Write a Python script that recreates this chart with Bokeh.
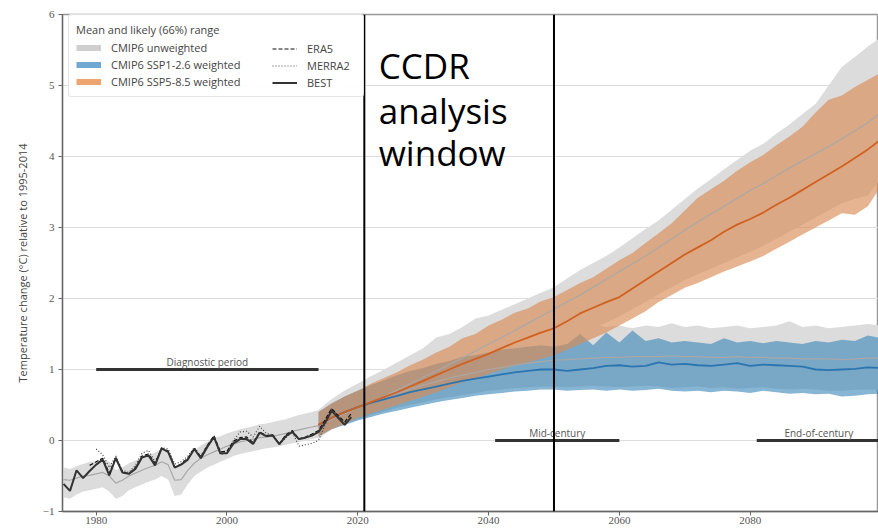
from bokeh.plotting import figure
from bokeh.models import Legend, LegendItem, Span, Label, FixedTicker, Range1d
from bokeh.core.properties import value
from bokeh.embed import file_html
from bokeh.resources import INLINE

# ---------------- data ----------------
x_ticks = [1980, 2000, 2020, 2040, 2060, 2080, 2100]
y_ticks = [-1, 0, 1, 2, 3, 4, 5, 6]
y_tick_labels = ["\u22121", "0", "1", "2", "3", "4", "5", "6"]

# observations
best_years = list(range(1975, 2020))
best = [-0.61, -0.71, -0.42, -0.53, -0.43, -0.34, -0.27, -0.49, -0.25, -0.45,
        -0.47, -0.40, -0.24, -0.21, -0.35, -0.11, -0.16, -0.38, -0.34, -0.27,
        -0.12, -0.25, -0.09, 0.05, -0.18, -0.18, -0.04, 0.02, 0.02, -0.05,
        0.11, 0.06, 0.07, -0.05, 0.06, 0.12, 0.02, 0.04, 0.07, 0.12,
        0.25, 0.42, 0.32, 0.22, 0.33]
era5_years = list(range(1979, 2020))
era5 = [-0.35, -0.30, -0.25, -0.46, -0.24, -0.44, -0.47, -0.38, -0.22, -0.19,
        -0.32, -0.11, -0.15, -0.38, -0.33, -0.25, -0.11, -0.23, -0.07, 0.07,
        -0.16, -0.15, -0.01, 0.04, 0.05, -0.03, 0.12, 0.07, 0.08, -0.05,
        0.08, 0.14, 0.02, 0.05, 0.09, 0.14, 0.29, 0.45, 0.35, 0.26, 0.38]
merra2_years = list(range(1980, 2020))
merra2 = [-0.12, -0.20, -0.38, -0.22, -0.42, -0.45, -0.35, -0.18, -0.14, -0.30,
          -0.10, -0.12, -0.33, -0.30, -0.22, -0.10, -0.22, -0.06, 0.03, -0.20,
          -0.17, 0.00, 0.12, 0.13, 0.05, 0.20, 0.10, 0.08, -0.06, 0.04,
          0.12, -0.08, -0.06, -0.04, 0.00, 0.22, 0.45, 0.34, 0.22, 0.33]

# CMIP6 unweighted, historical
hist_years = list(range(1975, 2015))
hist_mean = [-0.55, -0.56, -0.53, -0.50, -0.49, -0.47, -0.45, -0.50, -0.60, -0.56,
             -0.50, -0.46, -0.42, -0.38, -0.35, -0.30, -0.34, -0.56, -0.55, -0.42,
             -0.32, -0.25, -0.20, -0.16, -0.12, -0.08, -0.05, -0.02, 0.00, 0.02,
             0.04, 0.05, 0.06, 0.08, 0.10, 0.13, 0.15, 0.17, 0.19, 0.21]
hist_hi = [-0.38, -0.40, -0.36, -0.33, -0.30, -0.30, -0.27, -0.30, -0.42, -0.38,
           -0.32, -0.28, -0.24, -0.20, -0.17, -0.12, -0.14, -0.36, -0.36, -0.24,
           -0.14, -0.07, -0.02, 0.03, 0.06, 0.10, 0.13, 0.16, 0.18, 0.20,
           0.23, 0.24, 0.26, 0.28, 0.30, 0.33, 0.36, 0.38, 0.40, 0.43]
hist_lo = [-0.80, -0.82, -0.76, -0.72, -0.70, -0.68, -0.66, -0.72, -0.82, -0.78,
           -0.70, -0.66, -0.62, -0.58, -0.55, -0.50, -0.55, -0.78, -0.76, -0.62,
           -0.50, -0.44, -0.38, -0.34, -0.30, -0.26, -0.22, -0.19, -0.17, -0.15,
           -0.13, -0.11, -0.10, -0.08, -0.06, -0.04, -0.02, 0.00, 0.02, 0.04]

# projections (every second year)
fut_years = list(range(2014, 2101, 2))
ssp585_w_mean = [0.22, 0.32, 0.40, 0.47, 0.54, 0.61, 0.68, 0.76, 0.84, 0.92,
                 1.00, 1.08, 1.15, 1.22, 1.30, 1.38, 1.45, 1.52, 1.58, 1.68,
                 1.79, 1.87, 1.95, 2.02, 2.14, 2.26, 2.38, 2.50, 2.62, 2.72,
                 2.82, 2.94, 3.04, 3.12, 3.21, 3.32, 3.42, 3.53, 3.64, 3.75,
                 3.86, 3.98, 4.10, 4.24]
ssp585_w_hi = [0.40, 0.52, 0.62, 0.70, 0.80, 0.88, 0.96, 1.06, 1.14, 1.24,
               1.32, 1.44, 1.50, 1.62, 1.70, 1.80, 1.86, 1.96, 2.02, 2.12,
               2.22, 2.30, 2.42, 2.54, 2.64, 2.78, 2.92, 3.06, 3.24, 3.42,
               3.54, 3.66, 3.80, 3.92, 4.02, 4.16, 4.28, 4.42, 4.62, 4.80,
               4.86, 4.98, 5.08, 5.18]
ssp585_w_lo = [0.06, 0.16, 0.24, 0.32, 0.38, 0.44, 0.50, 0.56, 0.62, 0.68,
               0.75, 0.82, 0.88, 0.94, 1.00, 1.06, 1.10, 1.15, 1.20, 1.28,
               1.36, 1.44, 1.52, 1.62, 1.72, 1.82, 1.95, 2.05, 2.15, 2.22,
               2.30, 2.38, 2.45, 2.52, 2.60, 2.70, 2.80, 2.90, 3.00, 3.10,
               3.20, 3.18, 3.30, 3.58]
ssp585_u_mean = [0.21, 0.30, 0.38, 0.46, 0.54, 0.62, 0.71, 0.80, 0.89, 0.98,
                 1.07, 1.16, 1.26, 1.36, 1.45, 1.55, 1.65, 1.75, 1.85, 1.95,
                 2.05, 2.16, 2.27, 2.38, 2.49, 2.60, 2.72, 2.84, 2.96, 3.08,
                 3.19, 3.30, 3.41, 3.52, 3.62, 3.73, 3.84, 3.94, 4.04, 4.14,
                 4.25, 4.36, 4.48, 4.62]
ssp585_u_hi = [0.43, 0.58, 0.70, 0.80, 0.90, 1.00, 1.10, 1.20, 1.30, 1.45,
               1.50, 1.60, 1.72, 1.76, 1.84, 1.92, 2.00, 2.08, 2.16, 2.28,
               2.40, 2.50, 2.60, 2.72, 2.85, 2.98, 3.10, 3.25, 3.40, 3.55,
               3.68, 3.82, 3.95, 4.08, 4.18, 4.32, 4.45, 4.60, 4.74, 5.00,
               5.26, 5.40, 5.55, 5.68]
ssp585_u_lo = [0.02, 0.18, 0.28, 0.35, 0.42, 0.48, 0.55, 0.62, 0.68, 0.75,
               0.82, 0.90, 0.96, 1.03, 1.10, 1.16, 1.22, 1.28, 1.34, 1.42,
               1.50, 1.58, 1.66, 1.75, 1.85, 1.95, 2.06, 2.16, 2.26, 2.34,
               2.42, 2.50, 2.58, 2.66, 2.74, 2.84, 2.94, 3.04, 3.14, 3.24,
               3.34, 3.40, 3.45, 3.70]
ssp126_w_mean = [0.22, 0.32, 0.40, 0.47, 0.53, 0.58, 0.63, 0.68, 0.72, 0.76,
                 0.80, 0.84, 0.87, 0.90, 0.93, 0.96, 0.98, 1.00, 1.00, 0.98,
                 1.00, 1.02, 1.05, 1.06, 1.04, 1.05, 1.10, 1.07, 1.08, 1.06,
                 1.05, 1.07, 1.09, 1.05, 1.07, 1.06, 1.05, 1.04, 1.00, 0.99,
                 1.00, 1.01, 1.03, 1.02]
ssp126_w_hi = [0.40, 0.52, 0.62, 0.70, 0.78, 0.85, 0.92, 0.98, 1.02, 1.08,
               1.12, 1.18, 1.20, 1.24, 1.28, 1.30, 1.32, 1.34, 1.32, 1.36,
               1.50, 1.34, 1.52, 1.38, 1.55, 1.40, 1.44, 1.38, 1.40, 1.38,
               1.36, 1.44, 1.38, 1.40, 1.37, 1.40, 1.38, 1.36, 1.40, 1.38,
               1.42, 1.40, 1.48, 1.44]
ssp126_w_lo = [0.06, 0.16, 0.22, 0.28, 0.33, 0.38, 0.42, 0.46, 0.50, 0.54,
               0.57, 0.60, 0.63, 0.65, 0.67, 0.69, 0.70, 0.72, 0.72, 0.70,
               0.71, 0.72, 0.70, 0.72, 0.70, 0.71, 0.73, 0.70, 0.69, 0.70,
               0.68, 0.70, 0.69, 0.67, 0.70, 0.68, 0.66, 0.67, 0.65, 0.66,
               0.62, 0.63, 0.65, 0.66]
ssp126_u_mean = [0.21, 0.30, 0.38, 0.46, 0.53, 0.60, 0.66, 0.72, 0.78, 0.83,
                 0.88, 0.92, 0.96, 1.00, 1.03, 1.06, 1.09, 1.11, 1.13, 1.14,
                 1.15, 1.16, 1.17, 1.17, 1.18, 1.18, 1.18, 1.19, 1.18, 1.18,
                 1.17, 1.17, 1.18, 1.17, 1.17, 1.16, 1.16, 1.15, 1.15, 1.15,
                 1.14, 1.15, 1.16, 1.16]
ssp126_u_hi = [0.43, 0.58, 0.70, 0.80, 0.90, 0.98, 1.06, 1.14, 1.20, 1.28,
               1.34, 1.40, 1.44, 1.48, 1.52, 1.55, 1.58, 1.60, 1.58, 1.62,
               1.60, 1.64, 1.60, 1.62, 1.58, 1.62, 1.60, 1.65, 1.60, 1.62,
               1.58, 1.60, 1.62, 1.58, 1.60, 1.62, 1.68, 1.60, 1.62, 1.58,
               1.60, 1.62, 1.64, 1.62]
ssp126_u_lo = [0.02, 0.16, 0.24, 0.30, 0.36, 0.41, 0.46, 0.50, 0.54, 0.58,
               0.61, 0.64, 0.67, 0.70, 0.72, 0.74, 0.75, 0.76, 0.76, 0.75,
               0.76, 0.77, 0.76, 0.75, 0.76, 0.77, 0.76, 0.74, 0.75, 0.76,
               0.74, 0.75, 0.73, 0.74, 0.75, 0.73, 0.72, 0.73, 0.72, 0.70,
               0.70, 0.71, 0.72, 0.72]

# periods
period_labels = ["Diagnostic period", "Mid-century", "End-of-century"]
period_start = [1980, 2041, 2081]
period_end = [2014, 2060, 2100]
period_level = [1.0, 0.0, 0.0]

# CCDR analysis window
window_years = [2021, 2050]
window_text = ["CCDR", "analysis", "window"]

# ---------------- figure ----------------
SANS = "Open Sans"
NAN = float("nan")
p = figure(width=878, height=530, x_range=Range1d(1974.85, 2099.62), y_range=Range1d(-1, 6),
           output_backend="svg", toolbar_location=None,
           min_border_left=62, min_border_right=0, min_border_top=14, min_border_bottom=19)
p.background_fill_color = "white"
p.border_fill_color = "white"
p.outline_line_color = "#999999"
p.outline_line_width = 1.5

GRAY_BAND = "#dcdcdc"
BLUE_BAND = "#3783b8"
ORANGE_BAND = "#d98c55"

p.varea(x=hist_years, y1=hist_lo, y2=hist_hi, fill_color=GRAY_BAND)
p.varea(x=fut_years, y1=ssp585_u_lo, y2=ssp585_u_hi, fill_color=GRAY_BAND)
p.varea(x=fut_years, y1=ssp126_u_lo, y2=ssp126_u_hi, fill_color=GRAY_BAND)
p.varea(x=fut_years, y1=ssp126_w_lo, y2=ssp126_w_hi, fill_color=BLUE_BAND, fill_alpha=0.6)
p.varea(x=fut_years, y1=ssp585_w_lo, y2=ssp585_w_hi, fill_color=ORANGE_BAND, fill_alpha=0.65)

p.line(hist_years, hist_mean, line_color="#a8a8a8", line_width=1.2)
p.line(fut_years, ssp585_u_mean, line_color="#a8a8a8", line_width=1.2)
p.line(fut_years, ssp126_u_mean, line_color="#a8a8a8", line_width=1.2)
p.line(fut_years, ssp126_w_mean, line_color="#2b75b0", line_width=1.8)
p.line(fut_years, ssp585_w_mean, line_color="#d2601f", line_width=1.8)

r_merra = p.line(merra2_years, merra2, line_color="#444444", line_width=1.2, line_dash="1 2")
r_era5 = p.line(era5_years, era5, line_color="#111111", line_width=1.2, line_dash="4 2")
r_best = p.line(best_years, best, line_color="#333333", line_width=2)

# periods
p.segment(x0=period_start, y0=period_level, x1=period_end, y1=period_level,
          line_color="#333333", line_width=3)
p.text(x=[(s + e) / 2 for s, e in zip(period_start, period_end)],
       y=[lv + 0.11 for lv in period_level], text=period_labels,
       text_align="center", text_baseline="alphabetic",
       text_font=value(SANS), text_font_size="10px", text_color="#555555")

for yr in window_years:
    p.add_layout(Span(location=yr, dimension="height", line_color="black", line_width=2))

for txt, yv in zip(window_text, [5.28, 4.65, 4.06]):
    p.add_layout(Label(x=2023.2, y=yv, text=txt, text_font=SANS, text_font_size="35px",
                       text_color="black", text_baseline="alphabetic", text_align="left"))

# legend swatches (draw nothing in the plot)
sw_gray = p.line(x=[NAN], y=[NAN], line_color="#cfcfcf", line_width=6)
sw_blue = p.line(x=[NAN], y=[NAN], line_color="#6fa8d0", line_width=6)
sw_orange = p.line(x=[NAN], y=[NAN], line_color="#eda46e", line_width=6)


def style_legend(lg):
    lg.label_text_font = SANS
    lg.label_text_font_size = "11px"
    lg.label_text_color = "#444444"
    lg.glyph_width = 25
    lg.glyph_height = 13
    lg.label_height = 13
    lg.label_standoff = 10
    lg.padding = 7
    lg.spacing = 2
    lg.margin = 0


legA = Legend(items=[LegendItem(label="CMIP6 unweighted", renderers=[sw_gray]),
                     LegendItem(label="CMIP6 SSP1-2.6 weighted", renderers=[sw_blue]),
                     LegendItem(label="CMIP6 SSP5-8.5 weighted", renderers=[sw_orange])],
              title="Mean and likely (66%) range", location=(6, 414))
style_legend(legA)
legA.label_width = 245
legA.title_text_font = SANS
legA.title_text_font_size = "11px"
legA.title_text_font_style = "normal"
legA.title_text_color = "#444444"
legA.title_standoff = 3
legA.border_line_color = "#cccccc"
legA.background_fill_alpha = 0.9
legA.border_radius = 3
p.add_layout(legA)

legB = Legend(items=[LegendItem(label="ERA5", renderers=[r_era5]),
                     LegendItem(label="MERRA2", renderers=[r_merra]),
                     LegendItem(label="BEST", renderers=[r_best])],
              location=(203, 414))
style_legend(legB)
legB.border_line_alpha = 0
legB.background_fill_alpha = 0
p.add_layout(legB)

# axes
p.xaxis.ticker = FixedTicker(ticks=x_ticks)
p.yaxis.ticker = FixedTicker(ticks=y_ticks)
p.yaxis.major_label_overrides = dict(zip(y_ticks, y_tick_labels))
p.xgrid.grid_line_color = None
p.ygrid.ticker = FixedTicker(ticks=y_ticks)
p.ygrid.grid_line_color = "#dddddd"
p.axis.axis_line_color = "#666666"
p.axis.axis_line_width = 1.3
p.axis.major_tick_line_color = "#666666"
p.axis.major_tick_out = 4
p.axis.major_tick_in = 0
p.axis.minor_tick_line_color = None
p.axis.major_label_text_font = "Liberation Serif"
p.axis.major_label_text_font_size = "11px"
p.axis.major_label_text_color = "#555555"
p.xaxis.major_label_standoff = 1
p.yaxis.major_label_standoff = 4
p.yaxis.axis_label = "Temperature change (\u00b0C) relative to 1995-2014"
p.yaxis.axis_label_text_font = SANS
p.yaxis.axis_label_text_font_size = "11px"
p.yaxis.axis_label_text_font_style = "normal"
p.yaxis.axis_label_text_color = "#444444"
p.yaxis.axis_label_standoff = 10

open("out.html", "w").write(file_html(p, INLINE))
